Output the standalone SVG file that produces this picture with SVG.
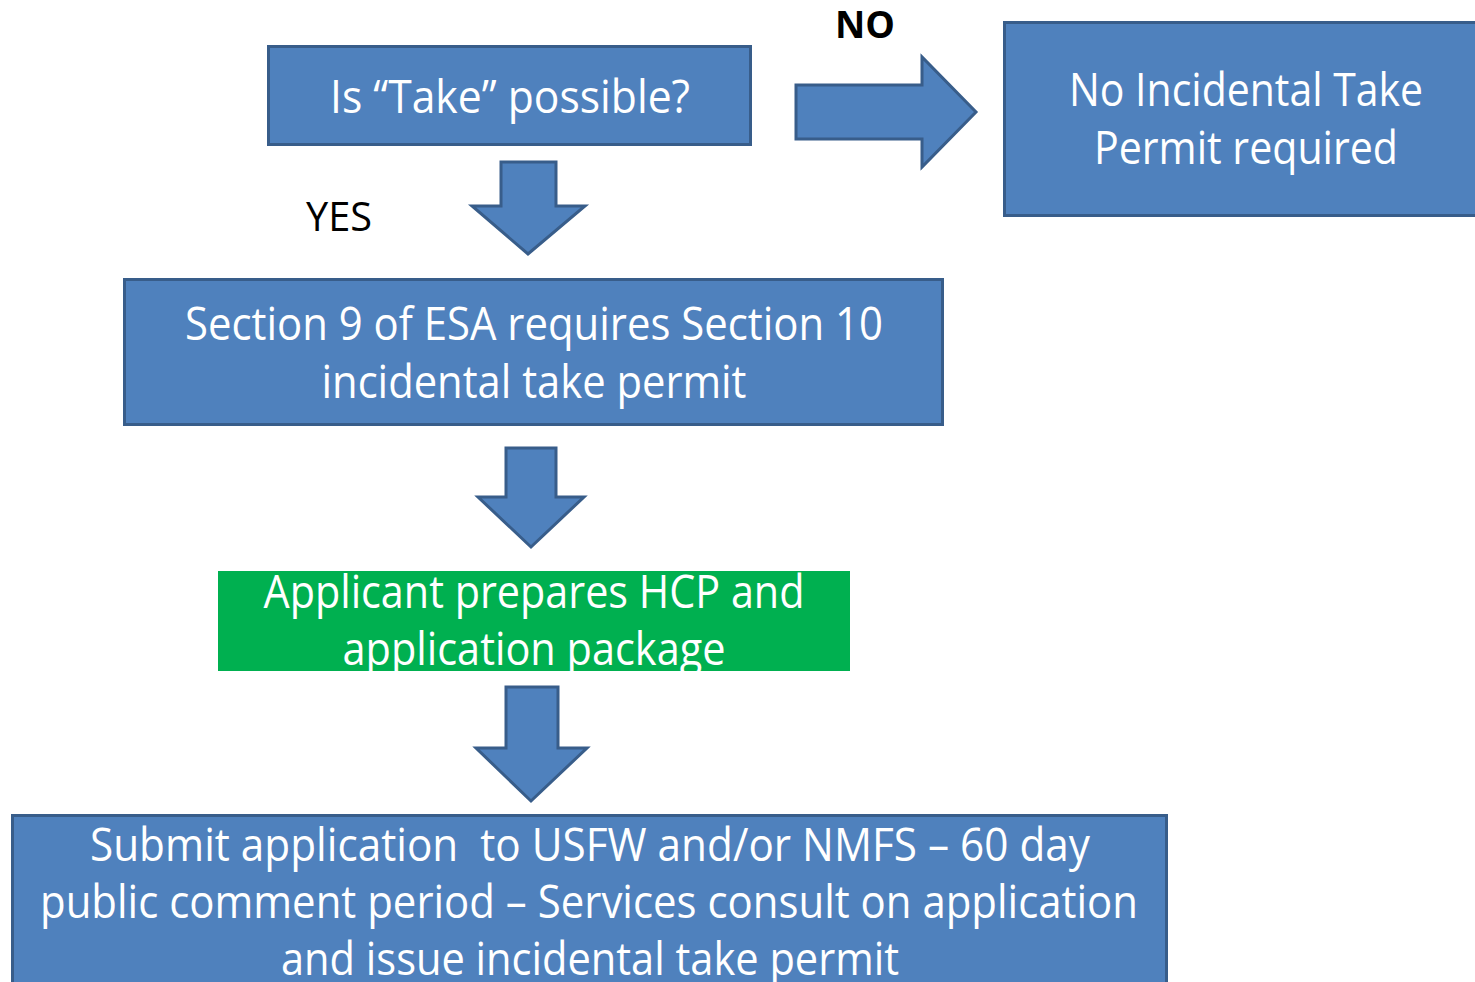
<svg xmlns="http://www.w3.org/2000/svg" width="1475" height="982" viewBox="0 0 1475 982">
<style>
.box{fill:#4F81BD;stroke:#385D8A;stroke-width:3}
.green{fill:#00B050}
.arrow{fill:#4F81BD;stroke:#385D8A;stroke-width:3;stroke-linejoin:miter}
.t{font-family:"Open Sans","Liberation Sans",sans-serif;font-size:46px;fill:#FFFFFF;text-anchor:middle}
.lbl{font-family:"Open Sans","Liberation Sans",sans-serif;fill:#000000}
</style>
<rect width="1475" height="982" fill="#FFFFFF"/>
<g id="connectors">
<polygon class="arrow" points="796,85 922,85 922,57 976,112 922,167 922,139 796,139"/>
<polygon class="arrow" points="501,162 556,162 556,206 585,206 528,254 472,206 501,206"/>
<polygon class="arrow" points="506,448 556,448 556,497 584,497 531,547 478,497 506,497"/>
<polygon class="arrow" points="506,687 558,687 558,748 587,748 531,801 476,748 506,748"/>
<text class="lbl" x="865" y="38" font-size="37" font-weight="bold" text-anchor="middle" textLength="60" lengthAdjust="spacingAndGlyphs">NO</text>
<text class="lbl" x="339" y="231" font-size="40" text-anchor="middle" textLength="66" lengthAdjust="spacingAndGlyphs">YES</text>
</g>
<g id="node-take">
<rect class="box" x="268.5" y="46.5" width="482" height="98"/>
<text class="t" x="510" y="113" textLength="360" lengthAdjust="spacingAndGlyphs">Is “Take” possible?</text>
</g>
<g id="node-no-permit">
<rect class="box" x="1004.5" y="22.5" width="475" height="193"/>
<text class="t" x="1246" y="106" textLength="354" lengthAdjust="spacingAndGlyphs">No Incidental Take</text>
<text class="t" x="1246" y="164" textLength="304" lengthAdjust="spacingAndGlyphs">Permit required</text>
</g>
<g id="node-section9">
<rect class="box" x="124.5" y="279.5" width="818" height="145"/>
<text class="t" x="534" y="340" textLength="698" lengthAdjust="spacingAndGlyphs">Section 9 of ESA requires Section 10</text>
<text class="t" x="534" y="398" textLength="425" lengthAdjust="spacingAndGlyphs">incidental take permit</text>
</g>
<g id="node-applicant">
<rect class="green" x="218" y="571" width="632" height="100"/>
<text class="t" x="534" y="608" textLength="541" lengthAdjust="spacingAndGlyphs">Applicant prepares HCP and</text>
<text class="t" x="534" y="665" textLength="383" lengthAdjust="spacingAndGlyphs">application package</text>
</g>
<g id="node-submit">
<rect class="box" x="12.5" y="815.5" width="1154" height="180"/>
<text class="t" x="590" y="861" textLength="1000" lengthAdjust="spacingAndGlyphs" xml:space="preserve">Submit application  to USFW and/or NMFS – 60 day</text>
<text class="t" x="589" y="918" textLength="1098" lengthAdjust="spacingAndGlyphs">public comment period – Services consult on application</text>
<text class="t" x="590" y="975" textLength="618" lengthAdjust="spacingAndGlyphs">and issue incidental take permit</text>
</g>
</svg>
